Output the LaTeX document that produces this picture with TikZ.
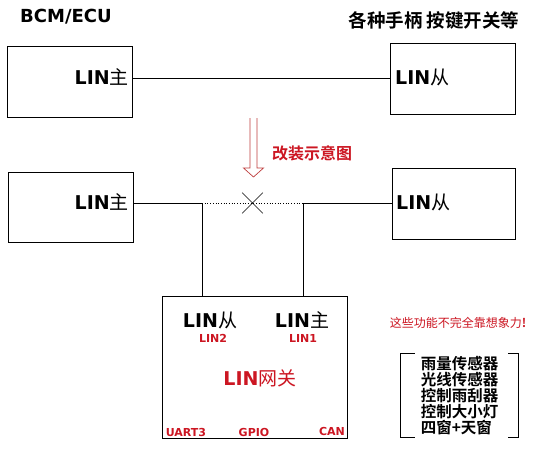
\documentclass[tikz,border=0pt]{standalone}
\usepackage{fontspec}
\setmainfont{DejaVu Sans}
\newfontfamily\cjk{Noto Sans CJK SC}[BoldFont={Noto Sans CJK SC Bold}]
\usetikzlibrary{shapes.misc}
\definecolor{linred}{RGB}{204,22,34}
\definecolor{arrowred}{RGB}{190,60,60}
\begin{document}
\begin{tikzpicture}[x=1pt, y=-1pt]
\tikzset{
  box/.style={draw, line width=0.8pt, inner sep=0pt},
  big/.style={font=\bfseries\fontsize{19}{19}\selectfont, inner sep=0pt},
  small/.style={font=\bfseries\fontsize{11}{11}\selectfont, text=linred, inner sep=0pt},
  wire/.style={line width=0.8pt}
}
\useasboundingbox (0,0) rectangle (544,452);
\fill[white] (0,0) rectangle (544,452);
\node[big, font=\bfseries\fontsize{18}{18}\selectfont] (bcm) at (66,17) {BCM/ECU};
\node[inner sep=0pt, font=\cjk\bfseries\fontsize{18.5}{18.5}\selectfont] (dev) at (434,20) {各种手柄 按键开关等};
\node[box, minimum width=125, minimum height=71] (mbox1) at (69.5,81.5) {};
\node[box, minimum width=125, minimum height=71] (sbox1) at (452.5,78.5) {};
\node[big, anchor=east] (mlbl1) at (129,77) {LIN{\cjk\mdseries 主}};
\node[big, anchor=west] (slbl1) at (395,77) {LIN{\cjk\mdseries 从}};
\draw[wire] (mbox1.east |- 0,78) -- (sbox1.west |- 0,78);
\coordinate (tip) at (253.5,177);
\draw[arrowred, line width=0.7pt, line join=miter]
  (250,118) -- (250,168) -- (243.5,168) -- (tip) -- (263.5,168) -- (257,168) -- (257,118);
\node[inner sep=0pt, text=linred, font=\cjk\bfseries\fontsize{16}{16}\selectfont] (mod) at (312,153) {改装示意图};
\node[box, minimum width=125, minimum height=70] (mbox2) at (70.5,207) {};
\node[box, minimum width=123, minimum height=71] (sbox2) at (453.5,203.5) {};
\node[big, anchor=east] (mlbl2) at (129,202) {LIN{\cjk\mdseries 主}};
\node[big, anchor=west] (slbl2) at (396,202) {LIN{\cjk\mdseries 从}};
\node[box, minimum width=185, minimum height=142] (gw) at (254.5,367) {};
\coordinate (p1) at (202,203);
\coordinate (p2) at (303,203);
\draw[wire] (mbox2.east |- p1) -- (p1) -- (gw.north -| p1);
\draw[wire] (sbox2.west |- p2) -- (p2) -- (gw.north -| p2);
\draw[line width=0.7pt, dotted] (p1) -- (p2);
\node[cross out, draw, line width=0.6pt, minimum size=20pt, inner sep=0pt] (cut) at (252.5,203) {};
\node[big] (gwslave) at (210,320) {LIN{\cjk\mdseries 从}};
\node[small] (lin2) at (213,338) {LIN2};
\node[big] (gwmaster) at (302,320) {LIN{\cjk\mdseries 主}};
\node[small] (lin1) at (303,338) {LIN1};
\node[big, text=linred] (gwname) at (260,378) {LIN{\cjk\mdseries 网关}};
\node[small] (uart) at (186,432) {UART3};
\node[small] (gpio) at (254,432) {GPIO};
\node[small] (can) at (332,431) {CAN};
\node[inner sep=0pt, text=linred, font=\cjk\fontsize{12}{12}\selectfont] (note) at (458,323) {这些功能不完全靠想象力{\bfseries !}};
\node[minimum width=117, minimum height=83, inner sep=0pt, align=left,
  font=\cjk\bfseries\fontsize{15.5}{16.2}\selectfont] (lst) at (459.5,395.5)
  {雨量传感器\\光线传感器\\控制雨刮器\\控制大小灯\\四窗+天窗};
\draw[line width=0.8pt] ([xshift=14pt]lst.north west) -- (lst.north west) -- (lst.south west) -- ([xshift=14pt]lst.south west);
\draw[line width=0.8pt] ([xshift=-10pt]lst.north east) -- (lst.north east) -- (lst.south east) -- ([xshift=-10pt]lst.south east);
\end{tikzpicture}
\end{document}
